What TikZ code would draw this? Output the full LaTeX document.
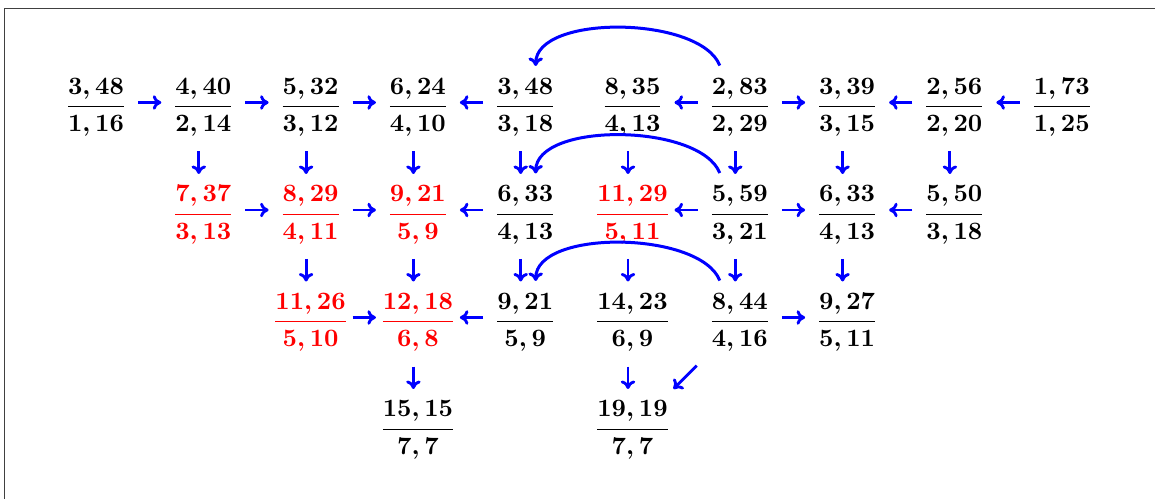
\documentclass[tikz,border=0pt]{standalone}
\usepackage{amsmath}
\usetikzlibrary{arrows.meta,calc}

\begin{document}
\begin{tikzpicture}[x=0.4pt,y=0.4pt,>={Computer Modern Rightarrow[width=5.8pt,length=3.4pt]},
  frac/.style={inner sep=0pt,font=\boldmath},
  hop/.style={blue,line width=1.15pt,->,shorten <=16.8pt,shorten >=16.8pt},
  drop/.style={blue,line width=1.15pt,->,shorten <=17.6pt,shorten >=16.4pt},
  swing/.style={blue,line width=1.2pt,->}]
 \useasboundingbox (0,0) rectangle (1155,-499);
 \draw[black!75,line width=0.65pt] (4.5,-499) -- (4.5,-8.5) -- (1155,-8.5);
 % fractions: row/column/top/bottom/colour
 \foreach \r/\c/\p/\q/\k in {0/0/{3,48}/{1,16}/black,0/1/{4,40}/{2,14}/black,0/2/{5,32}/{3,12}/black,
   0/3/{6,24}/{4,10}/black,0/4/{3,48}/{3,18}/black,0/5/{8,35}/{4,13}/black,0/6/{2,83}/{2,29}/black,
   0/7/{3,39}/{3,15}/black,0/8/{2,56}/{2,20}/black,0/9/{1,73}/{1,25}/black,
   1/1/{7,37}/{3,13}/red,1/2/{8,29}/{4,11}/red,1/3/{9,21}/{5,9}/red,1/4/{6,33}/{4,13}/black,
   1/5/{11,29}/{5,11}/red,1/6/{5,59}/{3,21}/black,1/7/{6,33}/{4,13}/black,1/8/{5,50}/{3,18}/black,
   2/2/{11,26}/{5,10}/red,2/3/{12,18}/{6,8}/red,2/4/{9,21}/{5,9}/black,2/5/{14,23}/{6,9}/black,
   2/6/{8,44}/{4,16}/black,2/7/{9,27}/{5,11}/black,
   3/3/{15,15}/{7,7}/black,3/5/{19,19}/{7,7}/black}
  \node[frac,text=\k] (n\r\c) at ({96+107.3*\c},{-107.5-107.5*\r}) {$\dfrac{\p}{\q}$};
 % sideways moves
 \foreach \a/\b in {00/01,01/02,02/03,04/03,06/05,06/07,08/07,09/08,
   11/12,12/13,14/13,16/15,16/17,18/17,22/23,24/23,26/27}
  \draw[hop] ([yshift=2pt]n\a.center) -- ([yshift=2pt]n\b.center);
 % downward moves
 \foreach \a/\b in {01/11,02/12,03/13,04/14,05/15,06/16,07/17,08/18,
   12/22,13/23,14/24,15/25,16/26,17/27,23/33,25/35}
  \draw[drop] ([xshift=-1.8pt]n\a.center) -- ([xshift=-1.8pt]n\b.center);
 \draw[blue,line width=1.15pt,->,shorten <=24.4pt,shorten >=23.2pt] (n26.center) -- (n35.center);
 % jumps back over the middle column
 \foreach \r in {0,1,2}
  \draw[swing] ($(n\r6)+(-20,42)$) .. controls +(-20,50) and +(0,52) .. ($(n\r4)+(10.5,41.5)$);
\end{tikzpicture}
\end{document}
